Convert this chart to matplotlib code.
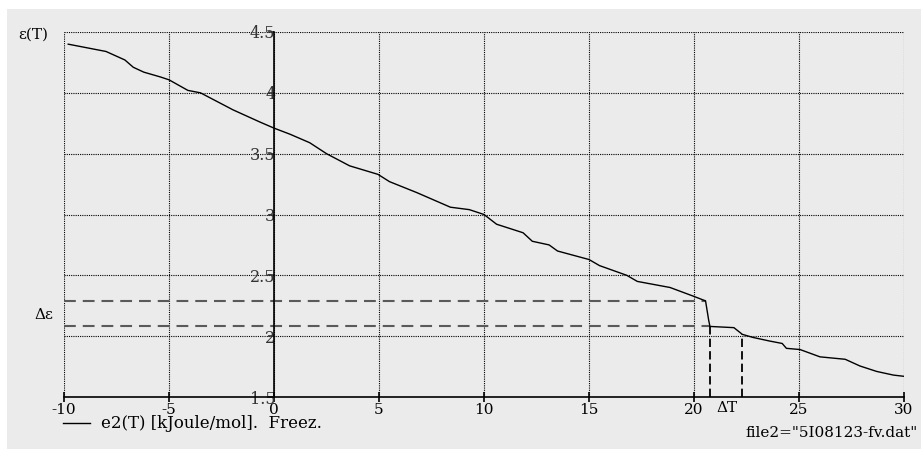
import matplotlib.pyplot as plt
from matplotlib.patches import Rectangle

plt.rcParams['font.family'] = ['DejaVu Serif']
plt.rcParams['lines.scale_dashes'] = False

# courbe e2(T)
T = [-9.8, -9.2, -8.3, -8.0, -7.1, -6.7, -6.2, -5.4, -5.0, -4.1, -3.5, -1.95,
     -0.67, 0.0, 0.76, 1.7, 2.5, 3.6, 4.95, 5.5, 6.8, 8.4, 9.3, 10.0, 10.6,
     11.86, 12.3, 13.1, 13.5, 15.0, 15.5, 16.8, 17.3, 18.86, 19.95, 20.55,
     20.7, 20.76, 21.9, 22.3, 22.8, 23.6, 24.2, 24.4, 25.05, 26.0, 27.2, 27.9,
     28.7, 29.5, 30.0]
e2 = [4.40, 4.38, 4.35, 4.34, 4.27, 4.21, 4.17, 4.13, 4.107, 4.02, 4.0, 3.86,
      3.76, 3.71, 3.66, 3.59, 3.5, 3.40, 3.33, 3.27, 3.18, 3.06, 3.04, 3.0, 2.92,
      2.85, 2.78, 2.75, 2.70, 2.63, 2.58, 2.5, 2.45, 2.40, 2.33, 2.29,
      2.13, 2.08, 2.07, 2.015, 1.99, 1.96, 1.94, 1.90, 1.89, 1.83, 1.81, 1.755,
      1.71, 1.68, 1.67]

# saut (Delta eps, Delta T)
eps_haut = 2.29
eps_bas = 2.08
T_coude = 20.55
T_bas = 20.76
T_fin = 22.3
eps_fin = 2.015

xticks = [-10, -5, 0, 5, 10, 15, 20, 25, 30]
yticks = [1.5, 2, 2.5, 3, 3.5, 4, 4.5]

fig = plt.figure(figsize=(9.21, 4.49), dpi=100)
fig.patches.append(Rectangle((7 / 921, 0), 1, 1 - 9 / 449, transform=fig.transFigure,
                             facecolor='#ebebeb', edgecolor='none', zorder=-10))
ax = fig.add_axes([64 / 921, 1 - 397 / 449, 840 / 921, 365 / 449])
ax.set_facecolor('none')

ax.set_xlim(-10, 30)
ax.set_ylim(1.5, 4.5)
ax.set_xticks(xticks)
ax.set_yticks(yticks)
ax.set_xticklabels([str(v) for v in xticks])
ax.set_yticklabels(['1.5', '2', '2.5', '3', '3.5', '4', '4.5'], family='DejaVu Sans')
ax.grid(True, color='black', linestyle=(0, (0.8, 0.8)), linewidth=0.8)

for s in ['top', 'right']:
    ax.spines[s].set_visible(False)
ax.spines['left'].set_position(('data', 0))
ax.spines['left'].set_linewidth(1.2)
ax.spines['bottom'].set_linewidth(1.2)
ax.tick_params(axis='x', direction='inout', length=7, width=1.2, labelsize=11, pad=1)
ax.tick_params(axis='y', direction='out', length=4, width=1.2, labelsize=11.5, pad=-5,
               colors='#333333')

# lignes en tirets
ax.plot([-10, T_coude], [eps_haut, eps_haut], color='#5a5a5a', lw=1.5, dashes=(8.5, 5))
ax.plot([-10, T_bas], [eps_bas, eps_bas], color='#5a5a5a', lw=1.5, dashes=(8.5, 5))
ax.plot([T_bas, T_bas], [1.5, eps_bas], color='black', lw=1.3, dashes=(6, 3))
ax.plot([T_fin, T_fin], [1.5, eps_fin], color='black', lw=1.3, dashes=(6, 3))

ax.plot(T, e2, color='black', lw=1.0, zorder=5)

fig.text(18 / 921, 1 - 35 / 449, 'ε(T)', fontsize=11, va='center', ha='left')
fig.text(34 / 921, 1 - 315 / 449, 'Δε', fontsize=11, va='center', ha='left')
fig.text(727 / 921, 1 - 408 / 449, 'ΔT', fontsize=11, va='center', ha='center')

fig.lines.append(plt.Line2D([63 / 921, 90 / 921], [1 - 423 / 449, 1 - 423 / 449],
                            transform=fig.transFigure, color='black', lw=1.0))
fig.text(101 / 921, 1 - 424 / 449, 'e2(T) [kJoule/mol].  Freez.', fontsize=12,
         va='center', ha='left')
fig.text(745 / 921, 1 - 433 / 449, 'file2="5I08123-fv.dat"', fontsize=11,
         va='center', ha='left')

fig.savefig('out.png', dpi=100)
